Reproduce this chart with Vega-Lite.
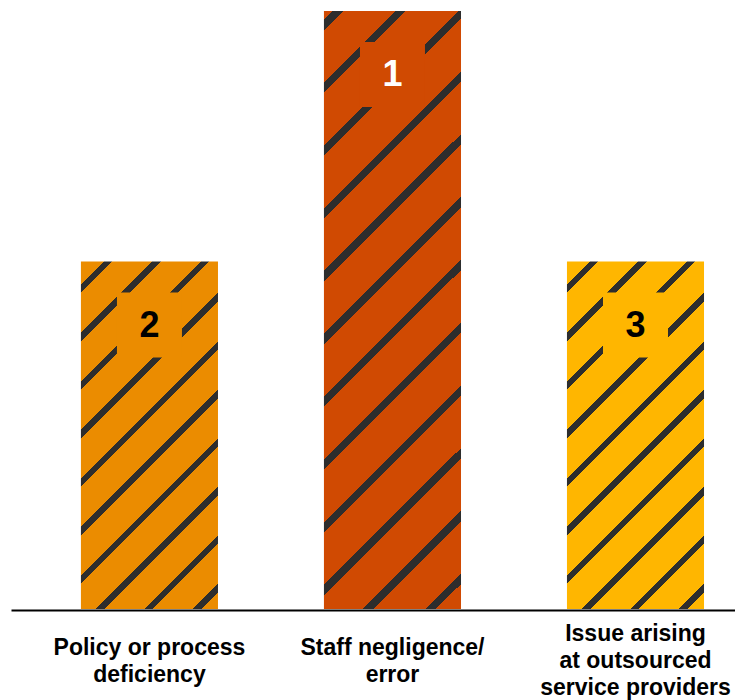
{
  "$schema": "https://vega.github.io/schema/vega-lite/v6.json",
  "width": 724,
  "height": 598,
  "autosize": {"type": "none"},
  "padding": {"left": 11, "top": 11, "right": 0, "bottom": 91},
  "background": "white",
  "config": {"view": {"stroke": null}},
  "data": {
    "values": [
      {"cause": "Policy or process\ndeficiency", "value": 58.1, "rank": 2},
      {"cause": "Staff negligence/\nerror", "value": 100, "rank": 1},
      {"cause": "Issue arising\nat outsourced\nservice providers", "value": 58.1, "rank": 3}
    ]
  },
  "encoding": {
    "x": {
      "field": "cause",
      "type": "nominal",
      "sort": ["Policy or process\ndeficiency", "Staff negligence/\nerror", "Issue arising\nat outsourced\nservice providers"],
      "scale": {"paddingInner": 0.436, "paddingOuter": 0.2076, "align": 0.693},
      "axis": {
        "title": null,
        "labelAngle": 0,
        "domain": true,
        "domainColor": "#000000",
        "domainWidth": 2,
        "offset": 1,
        "ticks": false,
        "tickSize": 0,
        "grid": false,
        "labelPadding": {"condition": {"test": "indexof(datum.value, 'Issue') >= 0", "value": 23}, "value": 37},
        "labelBaseline": "middle",
        "labelFont": "Liberation Sans",
        "labelFontSize": 23,
        "labelFontWeight": "bold",
        "labelColor": "#000000",
        "labelLineHeight": 27,
        "labelLimit": 0,
        "labelOverlap": false,
        "labelExpr": "split(datum.label, '\\n')"
      }
    },
    "y": {
      "field": "value",
      "type": "quantitative",
      "scale": {"domain": [0, 100], "nice": false, "zero": true},
      "axis": null
    }
  },
  "layer": [
    {
      "transform": [{"filter": "datum.rank === 1"}],
      "mark": {
        "type": "bar",
        "fill": {
          "gradient": "linear",
          "x1": 0, "y1": 0, "x2": 0.26754, "y2": 1.1678,
          "stops": [
            {"offset": 0, "color": "#D04A02"},
            {"offset": 0.011973, "color": "#D04A02"}, {"offset": 0.011973, "color": "#2D2D2D"}, {"offset": 0.026122, "color": "#2D2D2D"}, {"offset": 0.026122, "color": "#D04A02"},
            {"offset": 0.097415, "color": "#D04A02"}, {"offset": 0.097415, "color": "#2D2D2D"}, {"offset": 0.111565, "color": "#2D2D2D"}, {"offset": 0.111565, "color": "#D04A02"},
            {"offset": 0.182857, "color": "#D04A02"}, {"offset": 0.182857, "color": "#2D2D2D"}, {"offset": 0.197007, "color": "#2D2D2D"}, {"offset": 0.197007, "color": "#D04A02"},
            {"offset": 0.268299, "color": "#D04A02"}, {"offset": 0.268299, "color": "#2D2D2D"}, {"offset": 0.282449, "color": "#2D2D2D"}, {"offset": 0.282449, "color": "#D04A02"},
            {"offset": 0.353741, "color": "#D04A02"}, {"offset": 0.353741, "color": "#2D2D2D"}, {"offset": 0.367891, "color": "#2D2D2D"}, {"offset": 0.367891, "color": "#D04A02"},
            {"offset": 0.439184, "color": "#D04A02"}, {"offset": 0.439184, "color": "#2D2D2D"}, {"offset": 0.453333, "color": "#2D2D2D"}, {"offset": 0.453333, "color": "#D04A02"},
            {"offset": 0.524626, "color": "#D04A02"}, {"offset": 0.524626, "color": "#2D2D2D"}, {"offset": 0.538776, "color": "#2D2D2D"}, {"offset": 0.538776, "color": "#D04A02"},
            {"offset": 0.610068, "color": "#D04A02"}, {"offset": 0.610068, "color": "#2D2D2D"}, {"offset": 0.624218, "color": "#2D2D2D"}, {"offset": 0.624218, "color": "#D04A02"},
            {"offset": 0.69551, "color": "#D04A02"}, {"offset": 0.69551, "color": "#2D2D2D"}, {"offset": 0.70966, "color": "#2D2D2D"}, {"offset": 0.70966, "color": "#D04A02"},
            {"offset": 0.780952, "color": "#D04A02"}, {"offset": 0.780952, "color": "#2D2D2D"}, {"offset": 0.795102, "color": "#2D2D2D"}, {"offset": 0.795102, "color": "#D04A02"},
            {"offset": 0.866395, "color": "#D04A02"}, {"offset": 0.866395, "color": "#2D2D2D"}, {"offset": 0.880544, "color": "#2D2D2D"}, {"offset": 0.880544, "color": "#D04A02"},
            {"offset": 0.951837, "color": "#D04A02"}, {"offset": 0.951837, "color": "#2D2D2D"}, {"offset": 0.965986, "color": "#2D2D2D"}, {"offset": 0.965986, "color": "#D04A02"},
            {"offset": 1, "color": "#D04A02"}
          ]
        }
      }
    },
    {
      "transform": [{"filter": "datum.rank === 2"}],
      "mark": {
        "type": "bar",
        "fill": {
          "gradient": "linear",
          "x1": 0, "y1": 0, "x2": 0.47582, "y2": 1.2067,
          "stops": [
            {"offset": 0, "color": "#EB8C00"},
            {"offset": 0.047069, "color": "#EB8C00"}, {"offset": 0.047069, "color": "#2D2D2D"}, {"offset": 0.064409, "color": "#2D2D2D"}, {"offset": 0.064409, "color": "#EB8C00"},
            {"offset": 0.147192, "color": "#EB8C00"}, {"offset": 0.147192, "color": "#2D2D2D"}, {"offset": 0.164533, "color": "#2D2D2D"}, {"offset": 0.164533, "color": "#EB8C00"},
            {"offset": 0.247316, "color": "#EB8C00"}, {"offset": 0.247316, "color": "#2D2D2D"}, {"offset": 0.264657, "color": "#2D2D2D"}, {"offset": 0.264657, "color": "#EB8C00"},
            {"offset": 0.34744, "color": "#EB8C00"}, {"offset": 0.34744, "color": "#2D2D2D"}, {"offset": 0.364781, "color": "#2D2D2D"}, {"offset": 0.364781, "color": "#EB8C00"},
            {"offset": 0.447564, "color": "#EB8C00"}, {"offset": 0.447564, "color": "#2D2D2D"}, {"offset": 0.464905, "color": "#2D2D2D"}, {"offset": 0.464905, "color": "#EB8C00"},
            {"offset": 0.547688, "color": "#EB8C00"}, {"offset": 0.547688, "color": "#2D2D2D"}, {"offset": 0.565029, "color": "#2D2D2D"}, {"offset": 0.565029, "color": "#EB8C00"},
            {"offset": 0.647812, "color": "#EB8C00"}, {"offset": 0.647812, "color": "#2D2D2D"}, {"offset": 0.665153, "color": "#2D2D2D"}, {"offset": 0.665153, "color": "#EB8C00"},
            {"offset": 0.747936, "color": "#EB8C00"}, {"offset": 0.747936, "color": "#2D2D2D"}, {"offset": 0.765277, "color": "#2D2D2D"}, {"offset": 0.765277, "color": "#EB8C00"},
            {"offset": 0.84806, "color": "#EB8C00"}, {"offset": 0.84806, "color": "#2D2D2D"}, {"offset": 0.865401, "color": "#2D2D2D"}, {"offset": 0.865401, "color": "#EB8C00"},
            {"offset": 0.948183, "color": "#EB8C00"}, {"offset": 0.948183, "color": "#2D2D2D"}, {"offset": 0.965524, "color": "#2D2D2D"}, {"offset": 0.965524, "color": "#EB8C00"},
            {"offset": 1, "color": "#EB8C00"}
          ]
        }
      }
    },
    {
      "transform": [{"filter": "datum.rank === 3"}],
      "mark": {
        "type": "bar",
        "fill": {
          "gradient": "linear",
          "x1": 0, "y1": 0, "x2": 0.47582, "y2": 1.2067,
          "stops": [
            {"offset": 0, "color": "#FFB600"},
            {"offset": 0.047069, "color": "#FFB600"}, {"offset": 0.047069, "color": "#2D2D2D"}, {"offset": 0.064409, "color": "#2D2D2D"}, {"offset": 0.064409, "color": "#FFB600"},
            {"offset": 0.147192, "color": "#FFB600"}, {"offset": 0.147192, "color": "#2D2D2D"}, {"offset": 0.164533, "color": "#2D2D2D"}, {"offset": 0.164533, "color": "#FFB600"},
            {"offset": 0.247316, "color": "#FFB600"}, {"offset": 0.247316, "color": "#2D2D2D"}, {"offset": 0.264657, "color": "#2D2D2D"}, {"offset": 0.264657, "color": "#FFB600"},
            {"offset": 0.34744, "color": "#FFB600"}, {"offset": 0.34744, "color": "#2D2D2D"}, {"offset": 0.364781, "color": "#2D2D2D"}, {"offset": 0.364781, "color": "#FFB600"},
            {"offset": 0.447564, "color": "#FFB600"}, {"offset": 0.447564, "color": "#2D2D2D"}, {"offset": 0.464905, "color": "#2D2D2D"}, {"offset": 0.464905, "color": "#FFB600"},
            {"offset": 0.547688, "color": "#FFB600"}, {"offset": 0.547688, "color": "#2D2D2D"}, {"offset": 0.565029, "color": "#2D2D2D"}, {"offset": 0.565029, "color": "#FFB600"},
            {"offset": 0.647812, "color": "#FFB600"}, {"offset": 0.647812, "color": "#2D2D2D"}, {"offset": 0.665153, "color": "#2D2D2D"}, {"offset": 0.665153, "color": "#FFB600"},
            {"offset": 0.747936, "color": "#FFB600"}, {"offset": 0.747936, "color": "#2D2D2D"}, {"offset": 0.765277, "color": "#2D2D2D"}, {"offset": 0.765277, "color": "#FFB600"},
            {"offset": 0.84806, "color": "#FFB600"}, {"offset": 0.84806, "color": "#2D2D2D"}, {"offset": 0.865401, "color": "#2D2D2D"}, {"offset": 0.865401, "color": "#FFB600"},
            {"offset": 0.948183, "color": "#FFB600"}, {"offset": 0.948183, "color": "#2D2D2D"}, {"offset": 0.965524, "color": "#2D2D2D"}, {"offset": 0.965524, "color": "#FFB600"},
            {"offset": 1, "color": "#FFB600"}
          ]
        }
      }
    },
    {
      "mark": {"type": "point", "shape": "square", "size": 4225, "filled": true, "opacity": 1, "strokeWidth": 0, "yOffset": 63.5},
      "encoding": {
        "color": {
          "field": "rank",
          "type": "nominal",
          "scale": {"domain": [1, 2, 3], "range": ["#D04A02", "#EB8C00", "#FFB600"]},
          "legend": null
        }
      }
    },
    {
      "mark": {"type": "text", "font": "Liberation Sans", "fontSize": 36, "fontWeight": "bold", "baseline": "middle", "align": "center", "yOffset": 64},
      "encoding": {
        "text": {"field": "rank", "type": "nominal"},
        "color": {"condition": {"test": "datum.rank === 1", "value": "#FFFFFF"}, "value": "#000000"}
      }
    }
  ]
}
